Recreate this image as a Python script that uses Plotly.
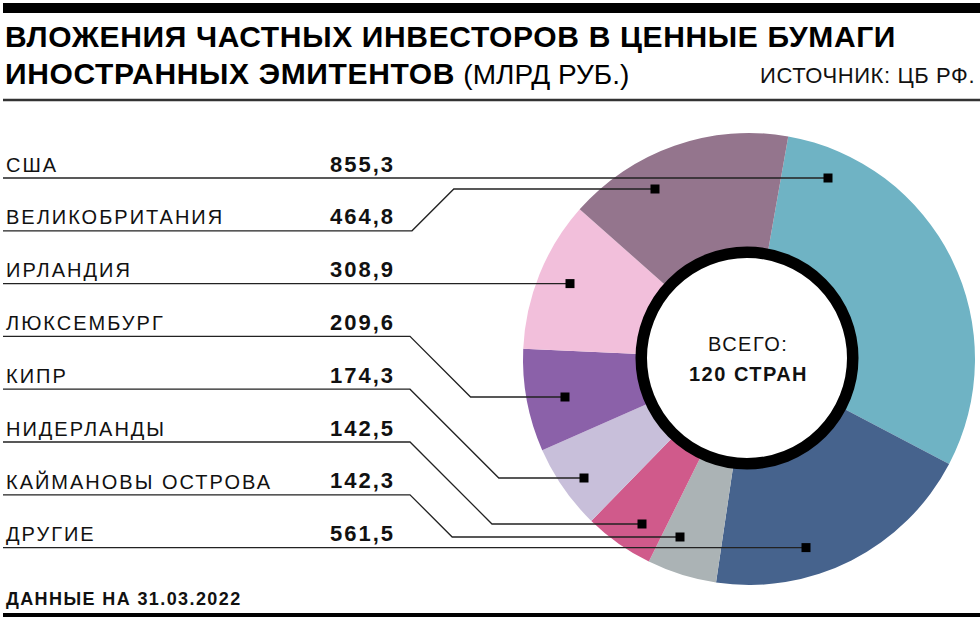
import plotly.graph_objects as go

# ---------------- data ----------------
categories = ["США", "ВЕЛИКОБРИТАНИЯ", "ИРЛАНДИЯ", "ЛЮКСЕМБУРГ", "КИПР",
              "НИДЕРЛАНДЫ", "КАЙМАНОВЫ ОСТРОВА", "ДРУГИЕ"]
values = [855.3, 464.8, 308.9, 209.6, 174.3, 142.5, 142.3, 561.5]
slice_colors = ["#6fb3c4", "#94758d", "#f2bfdb", "#8b61a9", "#c8bfda",
                "#d05a8b", "#abb3b5", "#46638d"]
# clockwise order of slices in the ring (indices into categories)
pie_order = [0, 7, 6, 5, 4, 3, 2, 1]

title_line1 = "ВЛОЖЕНИЯ ЧАСТНЫХ ИНВЕСТОРОВ В ЦЕННЫЕ БУМАГИ"
title_line2_bold = "ИНОСТРАННЫХ ЭМИТЕНТОВ"
title_line2_reg = "(МЛРД РУБ.)"
source_text = "ИСТОЧНИК: ЦБ РФ."
center_line1 = "ВСЕГО:"
center_line2 = "120 СТРАН"
footer_text = "ДАННЫЕ НА 31.03.2022"

# ---------------- geometry (pixels) ----------------
W, H = 980, 623
FONT = "Liberation Sans, Arial, sans-serif"
INK = "#111111"

cx, cy, R = 749, 359, 226
row_y0, row_step = 178, 52.8
bend_x = [None, 412, None, 410, 410, 410, 410, None]
marker_xy = [(828, None), (655, 189), (570, None), (565, 397), (584, 478),
             (642, 524), (680, 537), (806, None)]


def px(x):
    return x / W


def py(y):
    return 1 - y / H


def sp(text, ls):
    return f'<span style="letter-spacing:{ls}px">{text}</span>'


fig = go.Figure()

fig.add_trace(go.Pie(
    labels=[categories[i] for i in pie_order],
    values=[values[i] for i in pie_order],
    marker=dict(colors=[slice_colors[i] for i in pie_order], line=dict(width=0)),
    sort=False, direction="clockwise", rotation=10, hole=0.46,
    textinfo="none", hoverinfo="skip", showlegend=False,
    domain=dict(x=[px(cx - R), px(cx + R)], y=[py(cy + R), py(cy - R)]),
))

P = dict(xref="paper", yref="paper")
shapes = []
# rules
shapes.append(dict(type="rect", x0=px(3), x1=px(980), y0=py(3), y1=py(13), fillcolor="#000",
                   line=dict(width=0), layer="above", **P))
shapes.append(dict(type="line", x0=px(3), x1=px(980), y0=py(100), y1=py(100),
                   line=dict(color="#333", width=2.5), layer="above", **P))
shapes.append(dict(type="line", x0=px(3), x1=px(980), y0=py(615), y1=py(615),
                   line=dict(color="#000", width=4), layer="above", **P))
# black ring around center
rr, ring_w = 105.75, 11.5
rcx, rcy = 747, 358
shapes.append(dict(type="circle", x0=px(rcx - rr), x1=px(rcx + rr),
                   y0=py(rcy + rr), y1=py(rcy - rr),
                   fillcolor="white", line=dict(color="#000", width=ring_w),
                   layer="above", **P))

annotations = []
for i, name in enumerate(categories):
    ry = round(row_y0 + i * row_step, 1)
    mx, my = marker_xy[i]
    if my is None:
        my = ry
    if bend_x[i] is None:
        pts = [(3, ry), (mx, my)]
    else:
        bx = bend_x[i]
        ex = bx + abs(my - ry)
        pts = [(3, ry), (bx, ry), (ex, my), (mx, my)]
    path = "M " + " L ".join(f"{px(a):.5f},{py(b):.5f}" for a, b in pts)
    shapes.append(dict(type="path", path=path, line=dict(color="#222", width=1.3),
                       layer="above", **P))
    shapes.append(dict(type="rect", x0=px(mx - 4.5), x1=px(mx + 4.5),
                       y0=py(my + 4.5), y1=py(my - 4.5),
                       fillcolor="#000", line=dict(width=0), layer="above", **P))
    annotations.append(dict(x=px(4), y=py(ry - 13.5), text=sp(name, 2), xanchor="left",
                            yanchor="middle", showarrow=False,
                            font=dict(family=FONT, size=20, color=INK), **P))
    vtxt = f"{values[i]:.1f}".replace(".", ",")
    annotations.append(dict(x=px(397), y=py(ry - 14), text="<b>" + sp(vtxt, 2) + "</b>",
                            xanchor="right", yanchor="middle", showarrow=False,
                            font=dict(family=FONT, size=22, color=INK), **P))

annotations += [
    dict(x=px(3), y=py(36), text="<b>" + sp(title_line1, 0.65) + "</b>", xanchor="left",
         yanchor="middle", showarrow=False, font=dict(family=FONT, size=30, color="#000"), **P),
    dict(x=px(3), y=py(73), text="<b>" + sp(title_line2_bold, 0.65) + "</b> "
         + f'<span style="font-size:28px">{title_line2_reg}</span>',
         xanchor="left", yanchor="middle", showarrow=False,
         font=dict(family=FONT, size=30, color="#000"), **P),
    dict(x=px(977), y=py(75.5), text=sp(source_text, 0.6), xanchor="right", yanchor="middle",
         showarrow=False, font=dict(family=FONT, size=22, color=INK), **P),
    dict(x=px(rcx + 1), y=py(344), text=sp(center_line1, 1.5), xanchor="center",
         yanchor="middle", showarrow=False, font=dict(family=FONT, size=20, color=INK), **P),
    dict(x=px(rcx + 1), y=py(374), text="<b>" + sp(center_line2, 1.5) + "</b>",
         xanchor="center", yanchor="middle", showarrow=False,
         font=dict(family=FONT, size=20, color=INK), **P),
    dict(x=px(4), y=py(599), text="<b>" + sp(footer_text, 1.4) + "</b>", xanchor="left",
         yanchor="middle", showarrow=False, font=dict(family=FONT, size=18, color=INK), **P),
]

fig.update_layout(
    width=W, height=H, margin=dict(l=0, r=0, t=0, b=0),
    paper_bgcolor="white", plot_bgcolor="rgba(0,0,0,0)",
    shapes=shapes, annotations=annotations, showlegend=False,
)

fig.write_html("out.html", config={"displayModeBar": False})
